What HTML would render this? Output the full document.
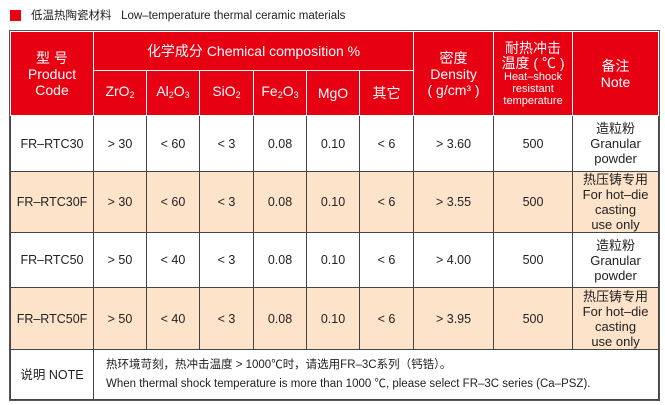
<!DOCTYPE html>
<html><head><meta charset="utf-8"><style>
body{margin:0;width:665px;height:405px;background:#fff;font-family:"Liberation Sans","Noto Sans CJK SC",sans-serif;position:relative;overflow:hidden}
.title{position:absolute;left:10px;top:7px;font-size:11.5px;color:#222;display:flex;align-items:center}
.title i{display:inline-block;width:11px;height:11px;background:#e60012;margin-right:10px}
table{position:absolute;left:10px;top:31px;border-collapse:collapse;table-layout:fixed;width:648px;font-size:12.5px;color:#222;text-align:center}
td,th{border:1px solid #444;padding:0;line-height:14px}
th{background:#e60012;color:#fff;font-weight:normal;border-color:#fff;font-size:14px;line-height:16px}
table{outline:1.5px solid #555}
.b td{background:#fde3c9}
.sub{font-size:9px;vertical-align:-2px}
.note{text-align:left;padding-left:12px;font-size:11.5px;line-height:19px}
.n{font-size:13px;line-height:15px}
</style></head><body>
<div class="title"><i></i>低温热陶瓷材料&nbsp;&nbsp;&nbsp;Low–temperature thermal ceramic materials</div>
<table>
<colgroup><col style="width:83px"><col style="width:53px"><col style="width:53px"><col style="width:54px"><col style="width:53px"><col style="width:53px"><col style="width:54px"><col style="width:80px"><col style="width:79px"><col style="width:86px"></colgroup>
<tr style="height:39px"><th rowspan="2">型 号<br>Product<br>Code</th><th colspan="6">化学成分 Chemical composition %</th><th rowspan="2">密度<br>Density<br>( g/cm³ )</th><th rowspan="2" style="line-height:15px">耐热冲击<br>温度 ( ℃ )<br><span style="font-size:11px;line-height:12px;display:block">Heat–shock<br>resistant<br>temperature</span></th><th rowspan="2">备注<br>Note</th></tr>
<tr style="height:45px"><th>ZrO<span class="sub">2</span></th><th>Al<span class="sub">2</span>O<span class="sub">3</span></th><th>SiO<span class="sub">2</span></th><th>Fe<span class="sub">2</span>O<span class="sub">3</span></th><th>MgO</th><th>其它</th></tr>
<tr style="height:56px"><td>FR–RTC30</td><td>&gt; 30</td><td>&lt; 60</td><td>&lt; 3</td><td>0.08</td><td>0.10</td><td>&lt; 6</td><td>&gt; 3.60</td><td>500</td><td class="n">造粒粉<br>Granular<br>powder</td></tr>
<tr class="b" style="height:61px"><td>FR–RTC30F</td><td>&gt; 30</td><td>&lt; 60</td><td>&lt; 3</td><td>0.08</td><td>0.10</td><td>&lt; 6</td><td>&gt; 3.55</td><td>500</td><td class="n">热压铸专用<br>For hot–die<br>casting<br>use only</td></tr>
<tr style="height:55px"><td>FR–RTC50</td><td>&gt; 50</td><td>&lt; 40</td><td>&lt; 3</td><td>0.08</td><td>0.10</td><td>&lt; 6</td><td>&gt; 4.00</td><td>500</td><td class="n">造粒粉<br>Granular<br>powder</td></tr>
<tr class="b" style="height:62px"><td>FR–RTC50F</td><td>&gt; 50</td><td>&lt; 40</td><td>&lt; 3</td><td>0.08</td><td>0.10</td><td>&lt; 6</td><td>&gt; 3.95</td><td>500</td><td class="n">热压铸专用<br>For hot–die<br>casting<br>use only</td></tr>
<tr style="height:50px"><td>说明 NOTE</td><td colspan="9" class="note">热环境苛刻，热冲击温度 &gt; 1000℃时，请选用FR–3C系列（钙锆）。<br>When thermal shock temperature is more than 1000 ℃, please select FR–3C series (Ca–PSZ).</td></tr>
</table>
</body></html>
